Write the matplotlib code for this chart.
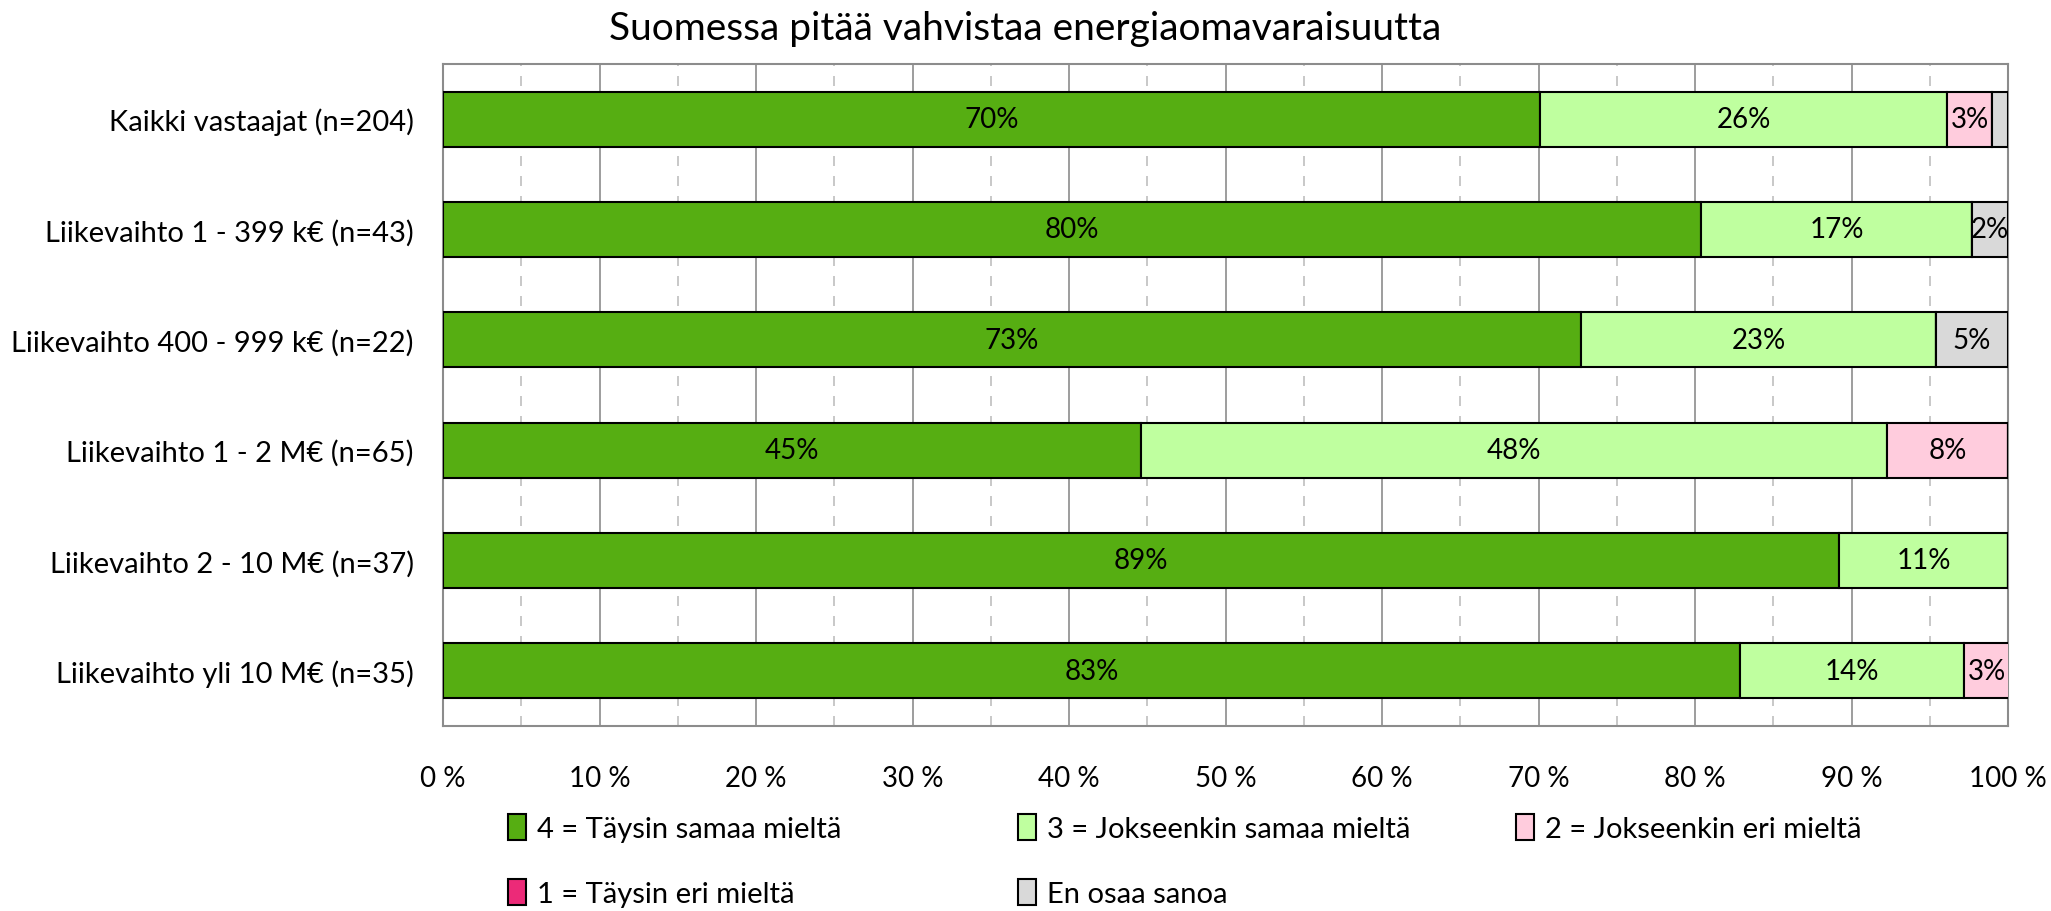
import matplotlib.pyplot as plt
import numpy as np
from matplotlib.patches import Patch
from matplotlib.ticker import MultipleLocator, FuncFormatter

plt.rcParams['font.family'] = ['Lato', 'DejaVu Sans']

# data (percent of respondents)
groups = [
    "Kaikki vastaajat (n=204)",
    "Liikevaihto 1 - 399 k€ (n=43)",
    "Liikevaihto 400 - 999 k€ (n=22)",
    "Liikevaihto 1 - 2 M€ (n=65)",
    "Liikevaihto 2 - 10 M€ (n=37)",
    "Liikevaihto yli 10 M€ (n=35)",
]
taysin_samaa = [70.1, 80.4, 72.7, 44.6, 89.2, 82.9]
jokseenkin_samaa = [26.0, 17.3, 22.7, 47.7, 10.8, 14.3]
jokseenkin_eri = [2.9, 0.0, 0.0, 7.7, 0.0, 2.9]
taysin_eri = [0.0, 0.0, 0.0, 0.0, 0.0, 0.0]
eos = [1.0, 2.3, 4.6, 0.0, 0.0, 0.0]

series = [
    ("4 = Täysin samaa mieltä", taysin_samaa, "#56AE12"),
    ("3 = Jokseenkin samaa mieltä", jokseenkin_samaa, "#BFFF9F"),
    ("2 = Jokseenkin eri mieltä", jokseenkin_eri, "#FFCCDD"),
    ("1 = Täysin eri mieltä", taysin_eri, "#EC2A78"),
    ("En osaa sanoa", eos, "#D9D9D9"),
]

W, H = 2051, 912
fig = plt.figure(figsize=(W / 100, H / 100), dpi=100)
ax = fig.add_axes([443 / W, 1 - 727 / H, (2008 - 443) / W, (727 - 65) / H])

y = np.arange(len(groups))
left = np.zeros(len(groups))
for name, vals, col in series:
    vals = np.array(vals)
    ax.barh(y, vals, left=left, height=0.5, color=col, edgecolor="black",
            linewidth=1.5, zorder=3)
    for yi, (l, v) in enumerate(zip(left, vals)):
        if v >= 1.5:
            ax.text(l + v / 2, yi, f"{v:.0f}%", ha="center", va="center",
                    fontsize=20, color="black", zorder=4)
    left += vals

ax.set_xlim(0, 100)
ax.set_ylim(len(groups) - 0.5, -0.5)
ax.set_yticks(y)
ax.set_yticklabels(groups, fontsize=21)
ax.xaxis.set_major_locator(MultipleLocator(10))
ax.xaxis.set_minor_locator(MultipleLocator(5))
ax.xaxis.set_major_formatter(FuncFormatter(lambda v, p: f"{v:.0f} %"))
ax.tick_params(axis="x", labelsize=20, length=0, pad=28, which="both")
ax.tick_params(axis="y", length=0, pad=21)
ax.grid(axis="x", which="major", color="#8C8C8C", linewidth=1.2, zorder=0)
ax.grid(axis="x", which="minor", color="#BFBFBF", linewidth=1.2,
        linestyle=(0, (6, 6)), zorder=0)
for s in ax.spines.values():
    s.set_color("#8C8C8C")
    s.set_linewidth(1.5)

fig.text(0.5, 1 - 29 / H,
         "Suomessa pitää vahvistaa energiaomavaraisuutta",
         ha="center", va="center", fontsize=28)

# legend: three equal-width columns, filled row by row
handles = [Patch(facecolor=c, edgecolor="black", linewidth=1.5, label=n)
           for n, _, c in series]
col_x = [508, 1018, 1516]
for ci, xpix in enumerate(col_x):
    items = handles[ci::3]
    fig.legend(handles=items, loc="upper left",
               bbox_to_anchor=(xpix / W, 1 - 815 / H), frameon=False,
               borderpad=0, borderaxespad=0,
               fontsize=21, handlelength=0.6, handleheight=1.0,
               handletextpad=0.4, labelspacing=1.25)

fig.savefig("out.png", dpi=100)
